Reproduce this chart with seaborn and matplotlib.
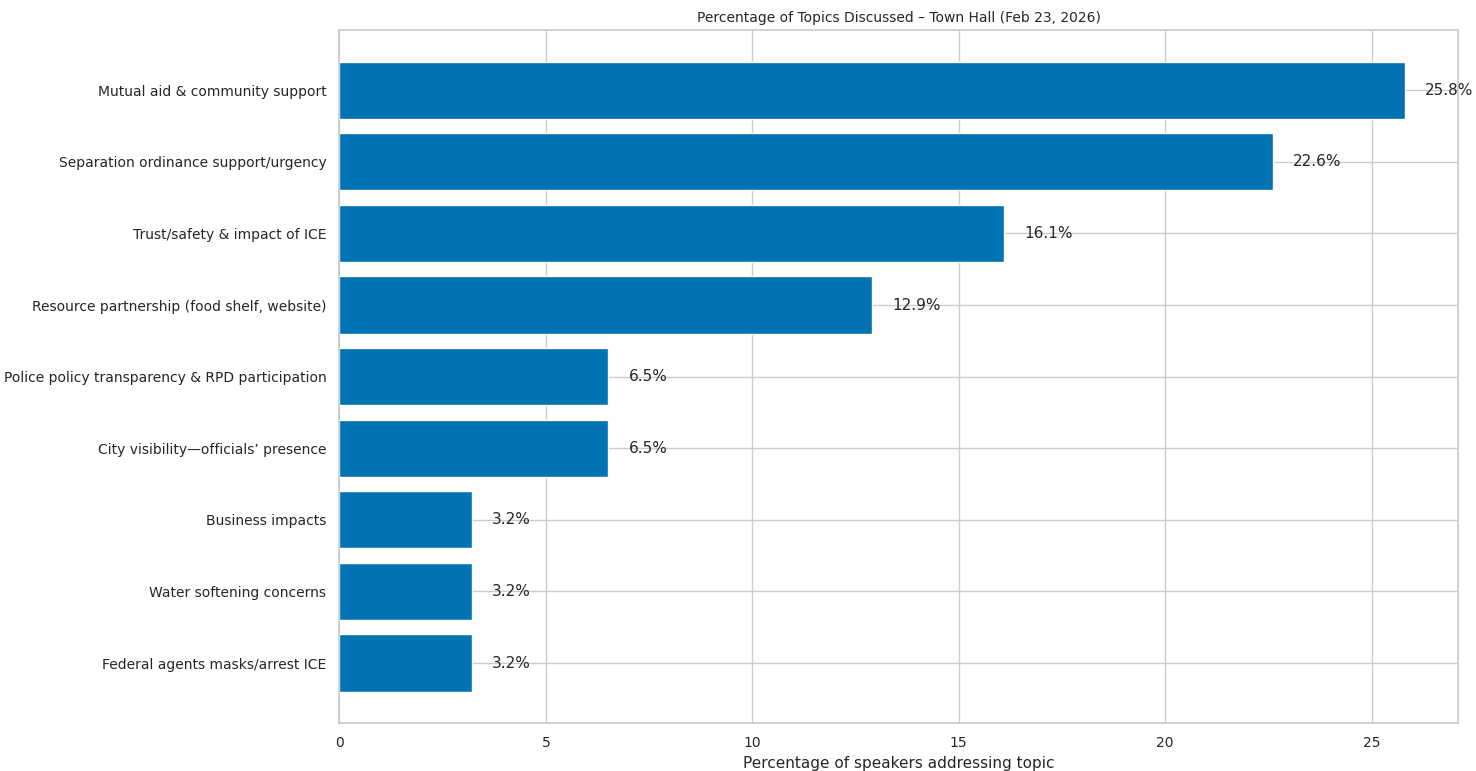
import pandas as pd
import seaborn as sns
import matplotlib.pyplot as plt

topics = [
    "Mutual aid & community support",
    "Separation ordinance support/urgency",
    "Trust/safety & impact of ICE",
    "Resource partnership (food shelf, website)",
    "Police policy transparency & RPD participation",
    "City visibility\u2014officials\u2019 presence",
    "Business impacts",
    "Water softening concerns",
    "Federal agents masks/arrest ICE",
]
percentages = [25.8, 22.6, 16.1, 12.9, 6.5, 6.5, 3.2, 3.2, 3.2]

df = pd.DataFrame({"topic": topics, "pct": percentages})

sns.set_theme(style="whitegrid")
plt.rcParams['font.family'] = ['DejaVu Sans']

fig, ax = plt.subplots(figsize=(14.76, 7.71), dpi=100)
fig.subplots_adjust(left=0.230, right=0.988, top=0.961, bottom=0.062)

sns.barplot(data=df, x="pct", y="topic", orient="h", color="#0173b2",
            saturation=1, width=0.8, ax=ax)

for i, v in enumerate(df["pct"]):
    ax.text(v + 0.5, i, f"{v:.1f}%", va="center", ha="left", fontsize=11,
            color="#262626")

ax.set_xlim(0, 27.1)
ax.set_ylim(8.84, -0.84)
ax.set_ylabel("")
ax.set_xlabel("Percentage of speakers addressing topic", fontsize=11)
ax.set_title("Percentage of Topics Discussed \u2013 Town Hall (Feb 23, 2026)", fontsize=10)
ax.tick_params(axis="both", labelsize=10)
ax.yaxis.grid(True)

fig.savefig("out.png", dpi=100)
